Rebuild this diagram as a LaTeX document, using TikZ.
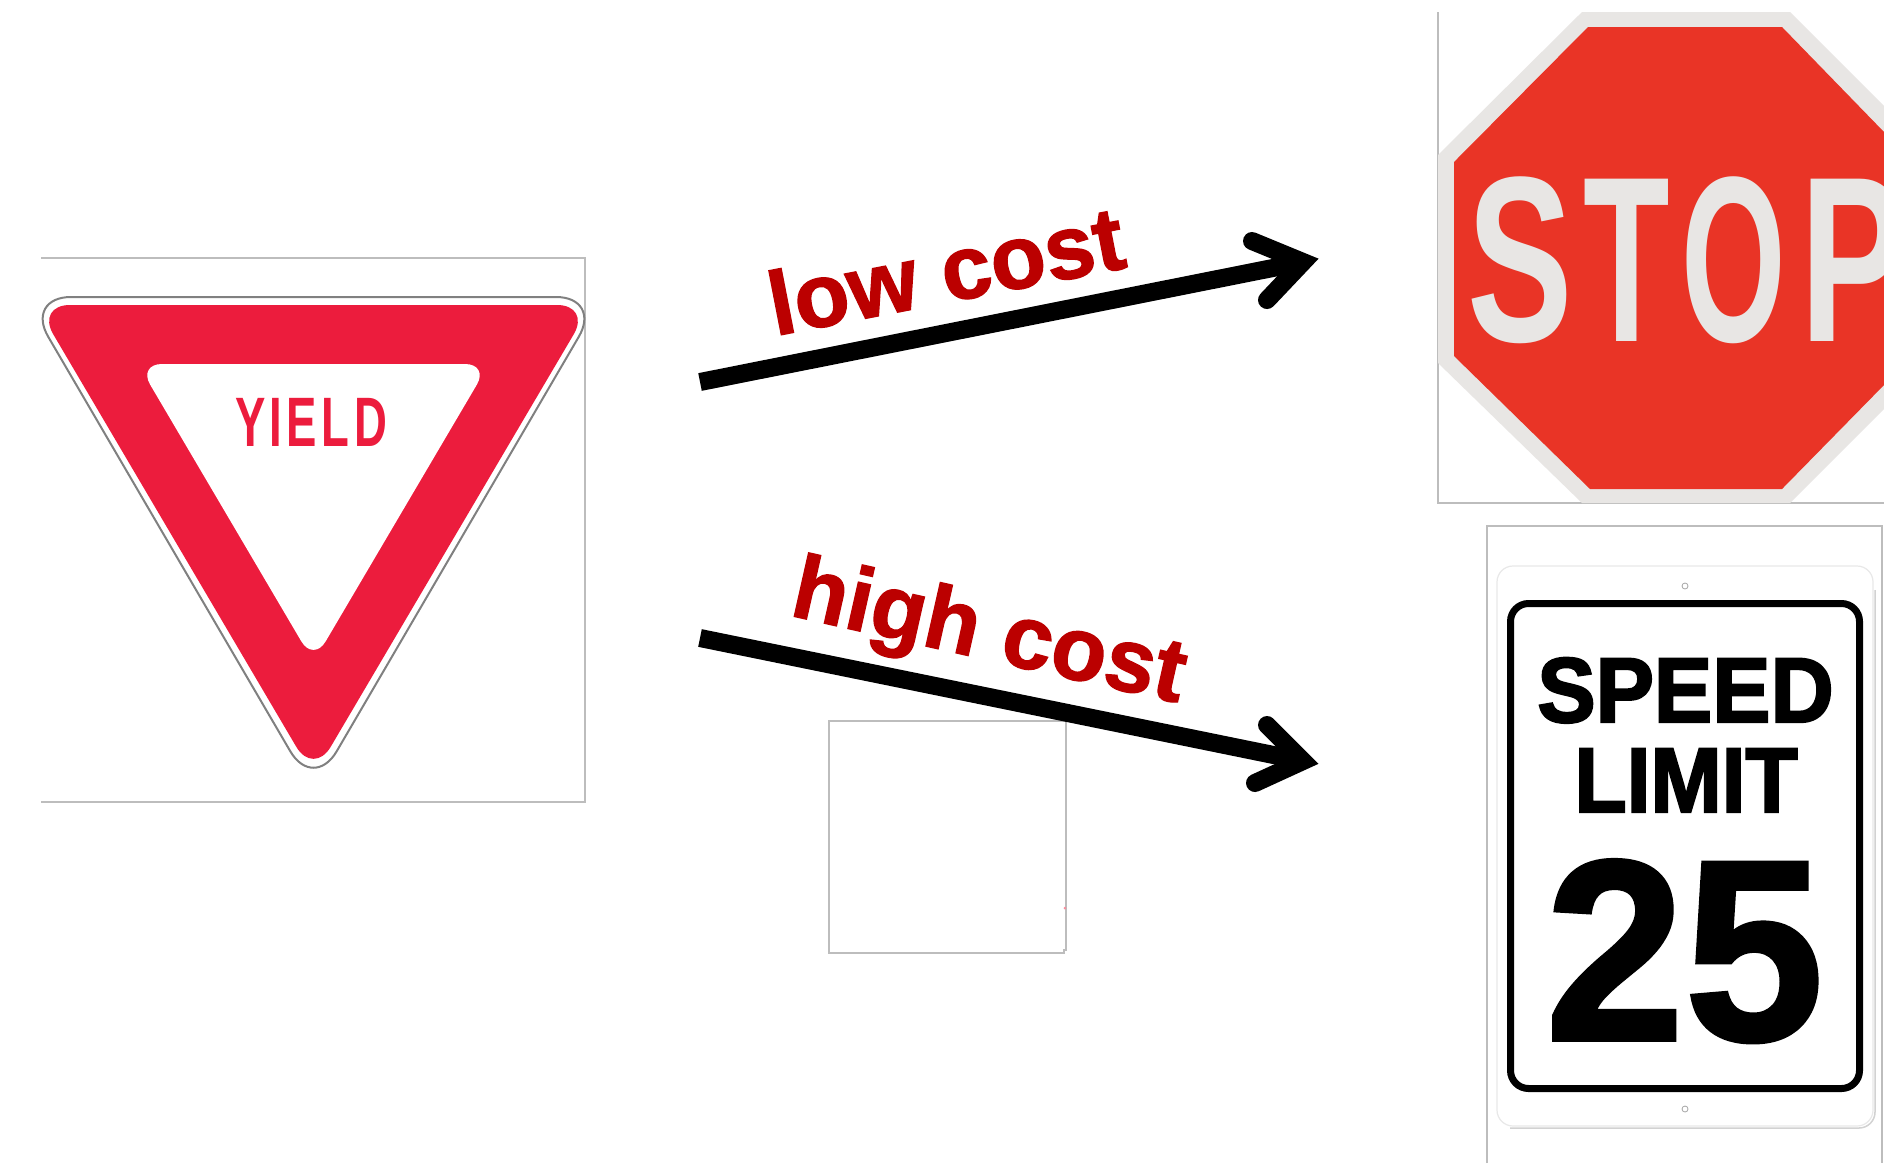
\documentclass[tikz,border=0pt]{standalone}
\usepackage{fontspec}
\usepackage{graphicx}
\setmainfont{Liberation Sans}
\newfontface\heavyface{Liberation Sans Bold}[FakeBold=1.5]
\newfontface\heavierface{Liberation Sans Bold}[FakeBold=2.5]
\definecolor{yieldred}{HTML}{EC1C3D}
\definecolor{stopred}{HTML}{E93426}
\definecolor{stopgrey}{HTML}{E8E6E4}
\definecolor{framegrey}{HTML}{BDBDBD}
\definecolor{labelred}{HTML}{BB0000}
\newcommand{\fsz}[1]{\fontsize{#1}{#1}\selectfont}
\newcommand{\sx}[2]{\scalebox{#1}[1]{#2}}
\tikzset{
  frameline/.style={draw=framegrey,line width=1.2pt},
  signtext/.style={inner sep=0pt,font=\bfseries},
  costlabel/.style={inner sep=0pt,anchor=base west,text=labelred,font=\heavyface\fsz{90}},
  costshaft/.style={line width=18pt,line cap=butt},
  costhead/.style={line width=18pt,line cap=round,line join=miter,miter limit=10}
}
\begin{document}
\begin{tikzpicture}[x=1pt,y=-1pt]
\useasboundingbox (0,0) rectangle (1884,1163);
\fill[white] (0,0) rectangle (1884,1163);
% yield sign
\draw[frameline] (41,258) -- (585,258) -- (585,802) -- (41,802);
\draw[fill=white,draw=gray,line width=2pt,rounded corners=46pt] (25,297) -- (602,297) -- (313.5,791) -- cycle;
\fill[yieldred,rounded corners=34pt] (36,305) -- (591,305) -- (313.5,776) -- cycle;
\fill[white,rounded corners=24pt] (138,364) -- (489,364) -- (313.5,662) -- cycle;
\node[signtext,text=yieldred,anchor=base,font=\bfseries\fsz{70}] (yieldtext) at (311,446)
  {\sx{.65}{Y}\kern4.5pt\sx{.65}{I}\kern4.5pt\sx{.65}{E}\kern4.5pt\sx{.65}{L}\kern4.5pt\sx{.65}{D}};
% stop sign
\begin{scope}
\clip (0,0) rectangle (1884,1163);
\draw[frameline] (1438,12) -- (1438,503) -- (1884,503);
\fill[stopgrey] (1582,12) -- (1790,12) -- (1884,106) -- (1884,409) -- (1790,503) -- (1582,503) -- (1438,363) -- (1438,155) -- cycle;
\fill[stopred] (1588,27) -- (1782,27) -- (1884,132) -- (1884,385) -- (1782,489) -- (1590,489) -- (1454,356) -- (1454,162) -- cycle;
\node[signtext,text=stopgrey,anchor=base west,font=\bfseries\fsz{236}] (stoptext) at (1467,341)
  {\sx{.67}{S}\kern10.5pt\sx{.6}{T}\kern12pt\sx{.57}{O}\kern14pt\sx{.67}{P}};
\end{scope}
% speed limit sign
\draw[frameline] (1487,1163) -- (1487,526) -- (1882,526) -- (1882,1163);
\draw[gray!35,line width=1.5pt,rounded corners=16pt] (1875,590) -- (1875,1128) -- (1510,1128);
\draw[fill=white,draw=gray!18,line width=1.2pt,rounded corners=16pt] (1497,566) rectangle (1873,1126);
\draw[black,line width=7pt,rounded corners=18pt] (1510.5,603.5) rectangle (1859.5,1088.5);
\draw[gray!70,fill=white,line width=.8pt] (1685,586) circle (3pt);
\draw[gray!70,fill=white,line width=.8pt] (1685,1109) circle (3pt);
\node[signtext,anchor=base,font=\heavierface\fsz{92}] (speedtext) at (1685.5,722) {\sx{.95}{SPEED}};
\node[signtext,anchor=base,font=\heavierface\fsz{92}] (limittext) at (1686,812) {\sx{.93}{LIMIT}};
\node[signtext,anchor=base,font=\heavyface\fsz{258}] (limitnum) at (1684.5,1040) {\sx{.97}{25}};
% empty frame
\draw[frameline] (829,721) -- (1066,721) -- (1066,950) -- (1064,950) -- (1064,953) -- (829,953) -- cycle;
\fill[yieldred!50] (1065,908) circle (1.5pt);
% arrows
\coordinate (lowstart) at (700,382);
\coordinate (lowvertex) at (1303,262);
\coordinate (lowbarba) at (1252,241);
\coordinate (lowbarbb) at (1267,300);
\coordinate (highstart) at (700,638);
\coordinate (highvertex) at (1303,761);
\coordinate (highbarba) at (1267,725);
\coordinate (highbarbb) at (1255,783);
\draw[costshaft] (lowstart) -- (lowvertex);
\draw[costhead] (lowbarba) -- (lowvertex) -- (lowbarbb);
\draw[costshaft] (highstart) -- (highvertex);
\draw[costhead] (highbarba) -- (highvertex) -- (highbarbb);
\node[costlabel,rotate=11] (lowlabel) at (775,336) {low cost};
\node[costlabel,rotate=-12.7] (highlabel) at (788,615) {high cost};
\end{tikzpicture}
\end{document}
